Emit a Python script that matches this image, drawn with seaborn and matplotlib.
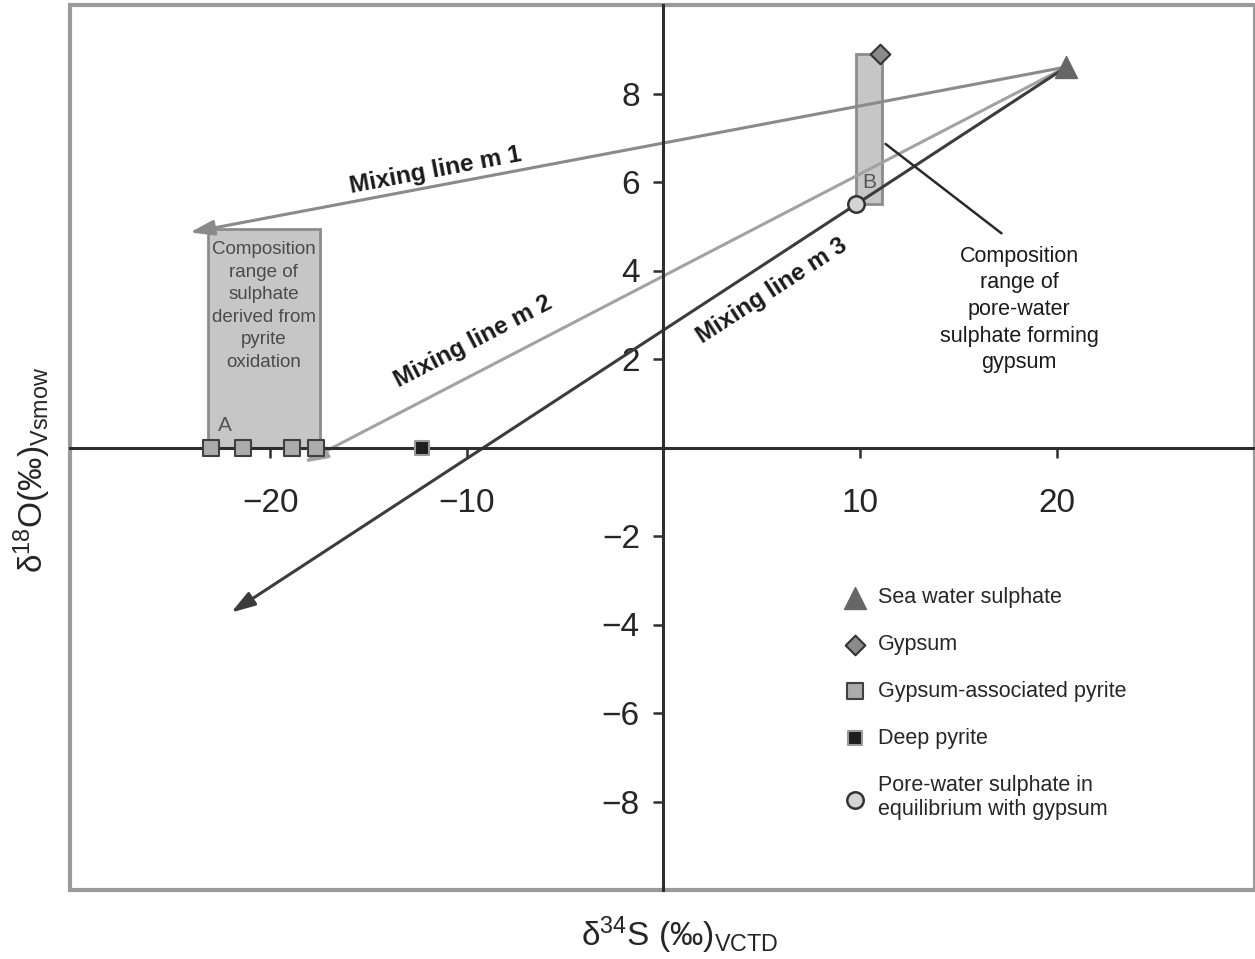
import matplotlib
matplotlib.use("Agg")
import matplotlib.pyplot as plt
import seaborn as sns
import pandas as pd
from matplotlib.patches import Rectangle

# data
sea_water = pd.DataFrame({"x": [20.5], "y": [8.6]})
gypsum = pd.DataFrame({"x": [11.0], "y": [8.9]})
gyp_pyrite = pd.DataFrame({"x": [-23.0, -21.4, -18.9, -17.7], "y": [0, 0, 0, 0]})
deep_pyrite = pd.DataFrame({"x": [-12.3], "y": [0]})
pore_water = pd.DataFrame({"x": [9.8], "y": [5.5]})

# mixing lines: start at sea water sulphate, end at arrow tip
mix_names = ["Mixing line m 1", "Mixing line m 2", "Mixing line m 3"]
mix_end_x = [-24.1, -18.3, -22.0]
mix_end_y = [4.86, -0.34, -3.73]
mix_colors = ["#8a8a8a", "#a2a2a2", "#3c3c3c"]
mix_label_x = [-11.6, -9.7, 5.5]
mix_label_y = [6.25, 2.4, 3.55]
mix_rot = [10.7, 27.4, 33.0]

# composition ranges (x0, x1, y0, y1)
box_a = [-23.2, -17.5, 0.0, 4.93]
box_b = [9.8, 11.1, 5.5, 8.9]

x_ticks = [-20, -10, 10, 20]
y_ticks = [-8, -6, -4, -2, 2, 4, 6, 8]

sns.set_theme(style="white")
plt.rcParams['font.family'] = ['Liberation Sans', 'DejaVu Sans']
plt.rcParams['mathtext.fontset'] = 'custom'
plt.rcParams['mathtext.rm'] = 'Liberation Sans'
plt.rcParams['mathtext.it'] = 'Liberation Sans'

fig = plt.figure(figsize=(12.55, 9.59), dpi=100)
ax = fig.add_axes([70 / 1255, 69 / 959, 1185 / 1255, 885 / 959])
ax.set_xlim(-30.2, 30.1)
ax.set_ylim(-10.0, 10.0)

# boxes
for b in (box_a, box_b):
    ax.add_patch(Rectangle((b[0], b[2]), b[1] - b[0], b[3] - b[2],
                           facecolor="#c6c6c6", edgecolor="#8c8c8c", lw=2, zorder=1))

# mixing lines
sx, sy = sea_water["x"][0], sea_water["y"][0]
for i in range(3):
    ax.annotate("", xy=(mix_end_x[i], mix_end_y[i]), xytext=(sx, sy),
                arrowprops=dict(arrowstyle="-|>,head_length=1.2,head_width=0.38",
                                color=mix_colors[i], lw=2.2, shrinkA=0, shrinkB=0),
                zorder=2)
    ax.text(mix_label_x[i], mix_label_y[i], mix_names[i], fontsize=17.5, fontweight="bold",
            rotation=mix_rot[i], ha="center", va="center", color="#1a1a1a",
            rotation_mode="anchor")

# leader line for B
ax.plot([11.3, 17.2], [6.86, 4.84], color="#2a2a2a", lw=1.8, zorder=2)

# points
sns.scatterplot(data=sea_water, x="x", y="y", marker="^", s=250, color="#666666",
                edgecolor="#666666", linewidth=1, label="Sea water sulphate", ax=ax, zorder=5)
sns.scatterplot(data=gypsum, x="x", y="y", marker="D", s=100, color="#8a8a8a",
                edgecolor="#333333", linewidth=1.5, label="Gypsum", ax=ax, zorder=5)
sns.scatterplot(data=gyp_pyrite, x="x", y="y", marker="s", s=140, color="#ababab",
                edgecolor="#404040", linewidth=1.5, label="Gypsum-associated pyrite", ax=ax, zorder=5)
sns.scatterplot(data=deep_pyrite, x="x", y="y", marker="s", s=100, color="#1e1e1e",
                edgecolor="#9a9a9a", linewidth=1.5, label="Deep pyrite", ax=ax, zorder=5)
sns.scatterplot(data=pore_water, x="x", y="y", marker="o", s=140, color="#d4d4d4",
                edgecolor="#333333", linewidth=1.8,
                label="Pore-water sulphate in\nequilibrium with gypsum", ax=ax, zorder=5)

# annotations
ax.text((box_a[0] + box_a[1]) / 2, 3.2,
        "Composition\nrange of\nsulphate\nderived from\npyrite\noxidation",
        fontsize=13.5, ha="center", va="center", color="#4a4a4a", linespacing=1.42, zorder=3)
ax.text(-22.3, 0.5, "A", fontsize=15, color="#555555", ha="center", va="center", zorder=3)
ax.text(10.45, 6.0, "B", fontsize=15, color="#555555", ha="center", va="center", zorder=3)
ax.text(18.1, 3.12, "Composition\nrange of\npore-water\nsulphate forming\ngypsum",
        fontsize=15.5, ha="center", va="center", color="#1a1a1a", linespacing=1.35)

# axes through origin
for side in ("top", "right"):
    ax.spines[side].set_visible(False)
ax.spines["left"].set_position(("data", 0))
ax.spines["bottom"].set_position(("data", 0))
for side in ("left", "bottom"):
    ax.spines[side].set_color("#2e2e2e")
    ax.spines[side].set_linewidth(2.2)
    ax.spines[side].set_zorder(2)
ax.add_patch(Rectangle((0, 0), 1, 1, transform=ax.transAxes, fill=False,
                       edgecolor="#9a9a9a", lw=3, clip_on=False, zorder=0))

ax.set_xticks(x_ticks)
ax.set_yticks(y_ticks)
ax.set_xticklabels([str(t).replace("-", "\u2212") for t in x_ticks])
ax.set_yticklabels([str(t).replace("-", "\u2212") for t in y_ticks])
ax.tick_params(axis="x", direction="out", length=7, width=1.8, color="#2e2e2e",
               labelsize=24, pad=22, bottom=True)
ax.tick_params(axis="y", direction="out", length=7, width=1.8, color="#2e2e2e",
               labelsize=24, pad=10, left=True)
ax.set_xlabel("")
ax.set_ylabel("")

fig.text(680 / 1255, 1 - 935 / 959, "\u03b4$^{34}$S (\u2030)$_{\\mathrm{VCTD}}$",
         fontsize=24, ha="center", va="center")
fig.text(32 / 1255, 1 - 470 / 959, "\u03b4$^{18}$O(\u2030)$_{\\mathrm{Vsmow}}$",
         fontsize=24, ha="center", va="center", rotation=90)

ax.legend(loc="upper left", bbox_to_anchor=(0.653, 0.342), frameon=False,
          fontsize=15.5, borderpad=0, borderaxespad=0, handlelength=1,
          handletextpad=0.6, labelspacing=1.2, alignment="left")

fig.savefig("out.png", dpi=100)
